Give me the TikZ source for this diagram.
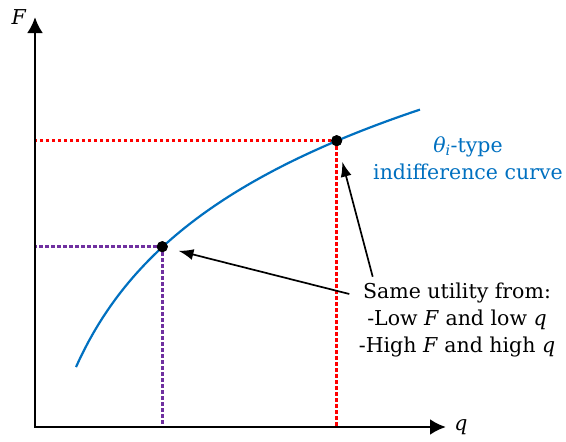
\documentclass[tikz,border=0pt]{standalone}
\usepackage{fontspec}
\setmainfont{DejaVu Serif}
\usepackage{tikz}
\usetikzlibrary{arrows.meta,calc,positioning}
\definecolor{curveblue}{HTML}{0070C0}
\definecolor{lowpurple}{HTML}{7030A0}
\definecolor{highred}{HTML}{FF0000}

\begin{document}
\begin{tikzpicture}[x=1pt, y=-1pt,
  axis/.style={line width=2.8pt, {Latex[length=16pt,width=16pt]}-{Latex[length=16pt,width=16pt]}},
  icurve/.style={line width=2.2pt, draw=curveblue},
  guide/.style={line width=2.8pt, dash pattern=on 3.5pt off 2.5pt},
  dot/.style={circle, fill=black, minimum size=11pt, inner sep=0pt},
  pointer/.style={line width=1.7pt, -{Latex[length=15pt,width=11pt]}},
  lbl/.style={font=\fontsize{20.5}{27}\selectfont, inner sep=0pt, align=center}]

\useasboundingbox (0,0) rectangle (566,442);

\coordinate (orig) at (35,427);
\coordinate (ytip) at (35,17);
\coordinate (xtip) at (446,427);

% Punti sulla curva
\node[dot] (hi) at (336.7,140.7) {};
\node[dot] (lo) at (162.3,246.7) {};

% Tratteggi
\draw[guide, highred] (hi) -- (hi -| orig);
\draw[guide, highred] (hi) -- (hi |- orig);
\draw[guide, lowpurple] (lo) -- (lo -| orig);
\draw[guide, lowpurple] (lo) -- (lo |- orig);

% Curva di indifferenza
\draw[icurve] plot[domain=76:420, samples=80] (\x, {926.1-136*ln(\x-15)});
\node[dot] at (hi) {};
\node[dot] at (lo) {};

% Assi
\draw[axis] (ytip) -- (orig) -- (xtip);
\node[lbl] (flbl) at (19,17) {\textit{F}};
\node[lbl] (qlbl) at (461,427.5) {\textit{q}};

% Testi
\node[lbl, text=curveblue] (tipo) at (468,158) {\textit{θ}\textsubscript{\textit{i}}-type\\indifference curve};
\node[lbl] (nota) at (457,320) {Same utility from:\\-Low \textit{F} and low \textit{q}\\-High \textit{F} and high \textit{q}};

% Frecce
\coordinate (a1) at (372.7,276.7);
\coordinate (a2) at (349.3,294);
\draw[pointer, shorten >=16pt] (a1) -- (hi);
\draw[pointer, shorten >=11pt] (a2) -- (lo);

\end{tikzpicture}
\end{document}
